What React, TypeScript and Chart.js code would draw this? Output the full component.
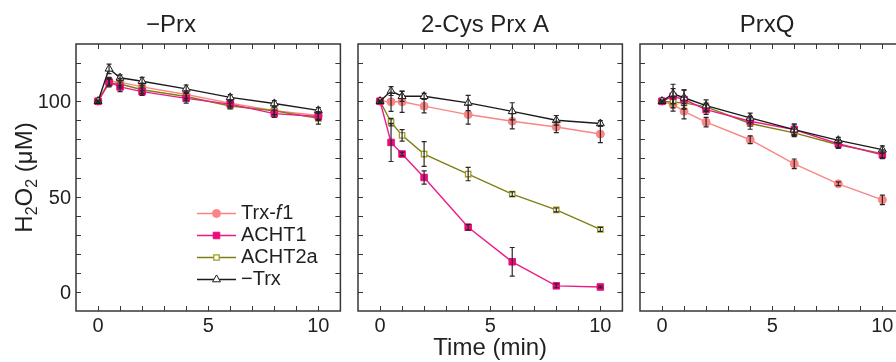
import React, { useEffect, useRef } from 'react';
import { Chart, registerables } from 'chart.js';

Chart.register(...registerables);

// ---------- data ----------
const times = [0, 0.5, 1, 2, 4, 6, 8, 10];
const panelTitles = ['−Prx', '2-Cys Prx A', 'PrxQ'];
const seriesNames = ['Trx-f1', 'ACHT1', 'ACHT2a', '−Trx'];
const xTickLabels = [0, 5, 10];
const yTickLabels = [0, 50, 100];
const xAxisTitle = 'Time (min)';

// −Prx
const noPrxTrxf1 = [100, 110.5, 110, 107.5, 103.5, 99, 95, 92.5];
const noPrxTrxf1Err = [0.5, 2, 2, 2, 2, 1.5, 2, 2];
const noPrxACHT1 = [100, 110, 107.5, 105, 101.5, 98.5, 93.5, 92];
const noPrxACHT1Err = [0.5, 2, 2.5, 2, 2.5, 1.5, 2, 2];
const noPrxACHT2a = [100, 109.5, 109, 106, 102.5, 97.5, 95, 91];
const noPrxACHT2aErr = [0.5, 2, 2, 2, 2, 1.5, 2, 3];
const noPrxNoTrx = [100, 117, 112.3, 110.5, 106.5, 102, 98.8, 95.2];
const noPrxNoTrxErr = [0.5, 2.5, 1.5, 2, 2, 1.5, 1.5, 1.5];

// 2-Cys Prx A
const prxATrxf1 = [100, 99.7, 99.7, 97.4, 93, 89.5, 86.5, 82.8];
const prxATrxf1Err = [0.5, 5, 5.5, 3.5, 5, 4, 3, 4.5];
const prxAACHT1 = [100, 78.4, 72.3, 60, 33.9, 15.8, 3.2, 2.6];
const prxAACHT1Err = [0.5, 10, 1, 3.5, 1.5, 7.5, 1, 0.5];
const prxAACHT2a = [100, 89, 82.1, 72.3, 61.8, 51.3, 43, 32.8];
const prxAACHT2aErr = [0.5, 2, 3, 6.5, 3.5, 1.2, 1, 1];
const prxANoTrx = [100, 105.3, 102.6, 102.6, 99.1, 94.7, 90, 88.3];
const prxANoTrxErr = [0.5, 2.3, 2.7, 1.5, 4, 4.5, 2.5, 1.5];

// PrxQ
const prxQTrxf1 = [100, 98.3, 94.7, 89, 79.8, 67.2, 56.7, 48.3];
const prxQTrxf1Err = [0.5, 3.5, 4, 2.5, 2, 2.5, 1, 2.5];
const prxQACHT1 = [100, 102.6, 100.9, 95.6, 89.5, 85.1, 77.7, 71.9];
const prxQACHT1Err = [0.5, 4, 5, 2.5, 2.5, 2.5, 2, 2];
const prxQACHT2a = [100, 99.5, 99.1, 97, 88.3, 83.4, 77.2, 72.5];
const prxQACHT2aErr = [0.5, 3, 3, 2, 3, 2, 2, 2];
const prxQNoTrx = [100, 103.9, 101.8, 97.7, 91.3, 85.1, 79.5, 74.6];
const prxQNoTrxErr = [0.5, 5, 4, 3, 2.5, 3, 1.5, 2];

const panelValues = [
  [noPrxTrxf1, noPrxACHT1, noPrxACHT2a, noPrxNoTrx],
  [prxATrxf1, prxAACHT1, prxAACHT2a, prxANoTrx],
  [prxQTrxf1, prxQACHT1, prxQACHT2a, prxQNoTrx],
];
const panelErrors = [
  [noPrxTrxf1Err, noPrxACHT1Err, noPrxACHT2aErr, noPrxNoTrxErr],
  [prxATrxf1Err, prxAACHT1Err, prxAACHT2aErr, prxANoTrxErr],
  [prxQTrxf1Err, prxQACHT1Err, prxQACHT2aErr, prxQNoTrxErr],
];

// ---------- styles ----------
const FONT = "'Liberation Sans', Arial, Helvetica, sans-serif";
const TEXT = '#231f20';
const FRAME = '#3b3636';
const seriesStyles = [
  { line: '#f98585', fill: '#f98585', stroke: '#f98585', shape: 'circle', r: 4, bw: 1, order: 4 },
  { line: '#ee1a86', fill: '#ea0b7c', stroke: '#ea0b7c', shape: 'rect', r: 4.6, bw: 1, order: 2 },
  { line: '#7f7f12', fill: '#ffffff', stroke: '#9e9e22', shape: 'rect', r: 3.8, bw: 1.3, order: 3 },
  { line: '#1d1a1a', fill: '#ffffff', stroke: '#1d1a1a', shape: 'triangle', r: 4.6, bw: 1, order: 1 },
];

const framePlugin = {
  id: 'frameTicks',
  beforeDatasetsDraw(chart: any) {
    const { ctx, chartArea } = chart;
    const { left, right, top, bottom } = chartArea;
    const xs = chart.scales.x;
    const ys = chart.scales.y;
    ctx.save();
    ctx.strokeStyle = FRAME;
    ctx.lineWidth = 1;
    ctx.beginPath();
    for (let v = 0; v <= 10; v++) {
      const px = Math.round(xs.getPixelForValue(v)) + 0.5;
      ctx.moveTo(px, bottom);
      ctx.lineTo(px, bottom - 5);
      ctx.moveTo(px, top);
      ctx.lineTo(px, top + 5);
    }
    for (let v = 0; v <= 120; v += 10) {
      const py = Math.round(ys.getPixelForValue(v)) + 0.5;
      ctx.moveTo(left, py);
      ctx.lineTo(left + 5, py);
      ctx.moveTo(right, py);
      ctx.lineTo(right - 5, py);
    }
    ctx.stroke();
    ctx.lineWidth = 1.5;
    ctx.strokeRect(left, top, right - left, bottom - top);
    ctx.restore();
  },
};

const errorBarPlugin = {
  id: 'errorBars',
  afterDatasetsDraw(chart: any) {
    const { ctx, chartArea } = chart;
    const xs = chart.scales.x;
    const ys = chart.scales.y;
    ctx.save();
    ctx.beginPath();
    ctx.rect(chartArea.left, chartArea.top, chartArea.right - chartArea.left, chartArea.bottom - chartArea.top);
    ctx.clip();
    ctx.strokeStyle = '#2a2626';
    ctx.lineWidth = 1.2;
    chart.data.datasets.forEach((ds: any) => {
      const errs = ds.errors;
      if (!errs) return;
      ds.data.forEach((p: any, j: number) => {
        const e = errs[j];
        if (!e) return;
        const x = xs.getPixelForValue(p.x);
        const y1 = ys.getPixelForValue(p.y + e);
        const y2 = ys.getPixelForValue(p.y - e);
        ctx.beginPath();
        ctx.moveTo(x, y1);
        ctx.lineTo(x, y2);
        ctx.moveTo(x - 2.5, y1);
        ctx.lineTo(x + 2.5, y1);
        ctx.moveTo(x - 2.5, y2);
        ctx.lineTo(x + 2.5, y2);
        ctx.stroke();
      });
    });
    ctx.restore();
  },
};

function drawMarker(ctx: CanvasRenderingContext2D, st: any, x: number, y: number) {
  ctx.save();
  ctx.fillStyle = st.fill;
  ctx.strokeStyle = st.stroke;
  ctx.lineWidth = st.bw;
  ctx.beginPath();
  if (st.shape === 'circle') {
    ctx.arc(x, y, st.r, 0, Math.PI * 2);
  } else if (st.shape === 'rect') {
    const s = st.r * Math.SQRT1_2;
    ctx.rect(x - s, y - s, 2 * s, 2 * s);
  } else {
    const r = st.r;
    ctx.moveTo(x, y - r);
    ctx.lineTo(x + r * 0.866, y + r * 0.5);
    ctx.lineTo(x - r * 0.866, y + r * 0.5);
    ctx.closePath();
  }
  ctx.fill();
  ctx.stroke();
  ctx.restore();
}

const legendPlugin = {
  id: 'insetLegend',
  afterDraw(chart: any) {
    const ctx = chart.ctx as CanvasRenderingContext2D;
    const rows = [213.5, 235.5, 257.5, 279.5];
    ctx.save();
    ctx.textBaseline = 'middle';
    ctx.textAlign = 'left';
    seriesNames.forEach((name, i) => {
      const st = seriesStyles[i];
      const y = rows[i];
      ctx.strokeStyle = st.line;
      ctx.lineWidth = 1.5;
      ctx.beginPath();
      ctx.moveTo(197, y);
      ctx.lineTo(236, y);
      ctx.stroke();
      drawMarker(ctx, st, 216.5, y);
      ctx.fillStyle = TEXT;
      let x = 241;
      if (name === 'Trx-f1') {
        ctx.font = `20px ${FONT}`;
        ctx.fillText('Trx-', x, y);
        x += ctx.measureText('Trx-').width;
        ctx.font = `italic 20px ${FONT}`;
        ctx.fillText('f', x, y);
        x += ctx.measureText('f').width + 1;
        ctx.font = `20px ${FONT}`;
        ctx.fillText('1', x, y);
      } else {
        ctx.font = `20px ${FONT}`;
        ctx.fillText(name, x, y);
      }
    });
    ctx.restore();
  },
};

const yTitlePlugin = {
  id: 'yTitle',
  afterDraw(chart: any) {
    const ctx = chart.ctx as CanvasRenderingContext2D;
    const { top, bottom } = chart.chartArea;
    const segs: [string, number, number][] = [
      ['H', 24, 0],
      ['2', 16, 5],
      ['O', 24, 0],
      ['2', 16, 5],
      [' (μM)', 24, 0],
    ];
    ctx.save();
    ctx.fillStyle = TEXT;
    ctx.textBaseline = 'alphabetic';
    ctx.textAlign = 'left';
    let total = 0;
    segs.forEach(([t, s]) => {
      ctx.font = `${s}px ${FONT}`;
      total += ctx.measureText(t).width;
    });
    ctx.translate(32, (top + bottom) / 2);
    ctx.rotate(-Math.PI / 2);
    let x = -total / 2;
    segs.forEach(([t, s, dy]) => {
      ctx.font = `${s}px ${FONT}`;
      ctx.fillText(t, x, dy);
      x += ctx.measureText(t).width;
    });
    ctx.restore();
  },
};

function makeConfig(panel: number): any {
  const datasets = seriesNames.map((name, i) => {
    const st = seriesStyles[i];
    const vals = panelValues[panel][i];
    return {
      label: name,
      data: times.map((t, j) => ({ x: t, y: vals[j] })),
      errors: panelErrors[panel][i],
      borderColor: st.line,
      borderWidth: 1.4,
      pointStyle: st.shape,
      pointRadius: st.r,
      pointBackgroundColor: st.fill,
      pointBorderColor: st.stroke,
      pointBorderWidth: st.bw,
      tension: 0,
      order: st.order,
      fill: false,
    };
  });
  const first = panel === 0;
  return {
    type: 'line',
    data: { datasets },
    options: {
      animation: false,
      responsive: false,
      maintainAspectRatio: false,
      devicePixelRatio: 1,
      events: [],
      layout: { padding: { left: 0, right: 4, top: 0, bottom: 0 } },
      plugins: {
        legend: { display: false },
        tooltip: { enabled: false },
        title: {
          display: true,
          text: panelTitles[panel],
          color: TEXT,
          font: { family: FONT, size: 24, weight: 'normal', lineHeight: 1.2 },
          padding: { top: 10.6, bottom: 4.6 },
        },
      },
      scales: {
        x: {
          type: 'linear',
          min: -1,
          max: 11,
          grid: { display: false, drawTicks: false, tickLength: 0 },
          border: { display: false },
          afterBuildTicks: (s: any) => {
            s.ticks = xTickLabels.map((v) => ({ value: v }));
          },
          afterFit: (s: any) => {
            s.height = 51;
          },
          ticks: {
            color: TEXT,
            padding: 3,
            maxRotation: 0,
            autoSkip: false,
            font: { family: FONT, size: 20 },
          },
          title: {
            display: panel === 1,
            text: xAxisTitle,
            color: TEXT,
            font: { family: FONT, size: 24, lineHeight: 1.1 },
            padding: { top: 0, bottom: 0 },
          },
        },
        y: {
          type: 'linear',
          min: -10,
          max: 130,
          grid: { display: false, drawTicks: false, tickLength: 0 },
          border: { display: false },
          afterBuildTicks: (s: any) => {
            s.ticks = yTickLabels.map((v) => ({ value: v }));
          },
          afterFit: (s: any) => {
            s.width = first ? 76 : 12;
          },
          ticks: {
            display: first,
            color: TEXT,
            padding: 5,
            labelOffset: 1.5,
            autoSkip: false,
            font: { family: FONT, size: 20 },
          },
        },
      },
    },
    plugins: first
      ? [framePlugin, errorBarPlugin, legendPlugin, yTitlePlugin]
      : [framePlugin, errorBarPlugin],
  };
}

export default function App() {
  const r1 = useRef<HTMLCanvasElement>(null);
  const r2 = useRef<HTMLCanvasElement>(null);
  const r3 = useRef<HTMLCanvasElement>(null);
  useEffect(() => {
    const charts = [r1, r2, r3].map((r, i) => new Chart(r.current as HTMLCanvasElement, makeConfig(i)));
    return () => charts.forEach((c) => c.destroy());
  }, []);
  return (
    <div
      style={{
        position: 'absolute',
        left: 0,
        top: 0,
        width: 896,
        height: 362,
        overflow: 'hidden',
        background: '#ffffff',
      }}
    >
      <canvas ref={r1} width={346} height={362} style={{ position: 'absolute', left: 0, top: 0 }} />
      <canvas ref={r2} width={282} height={362} style={{ position: 'absolute', left: 346, top: 0 }} />
      <canvas ref={r3} width={282} height={362} style={{ position: 'absolute', left: 628, top: 0 }} />
    </div>
  );
}
